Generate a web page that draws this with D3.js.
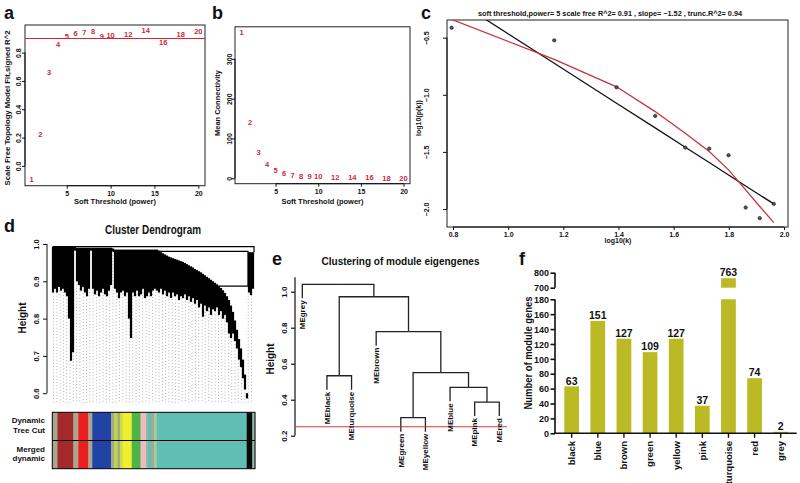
<!DOCTYPE html>
<html><head><meta charset="utf-8">
<script src="https://cdn.jsdelivr.net/npm/d3@7"></script>
<style>
body{margin:0;background:#fff;}
svg{display:block;}
</style></head><body>
<svg id="chart" width="800" height="483"></svg>
<script>
// ---------------- DATA ----------------
// panels a & b: soft-threshold powers
const powers = [1,2,3,4,5,6,7,8,9,10,12,14,16,18,20];
const sftR2 = [-0.094,0.224,0.657,0.86,0.917,0.936,0.945,0.952,0.917,0.924,0.931,0.959,0.874,0.926,0.952];
const meanK = [366,140,65,35,20,12.5,7.5,6,4.5,4,2.5,2,1.5,1,1];
const r2Cut = 0.9;
const ticksA = [0,0.2,0.4,0.6,0.8];
const ticksB = [0,100,200,300];
const ticksPow = [5,10,15,20];

// panel c: scale-free fit
const log10k = [0.795,1.167,1.393,1.533,1.642,1.729,1.799,1.861,1.912,1.963];
const log10pk = [-0.413,-0.523,-0.934,-1.185,-1.462,-1.471,-1.529,-1.987,-2.08,-1.955];
const fitLinear = [-0.149,-0.724,-1.074,-1.290,-1.459,-1.593,-1.702,-1.798,-1.877,-1.955];
const fitTrunc = [-0.34,-0.689,-0.93,-1.147,-1.337,-1.497,-1.657,-1.832,-1.978,-2.119];
const ticksCx = [0.8,1.0,1.2,1.4,1.6,1.8,2.0];
const ticksCy = [-0.5,-1.0,-1.5,-2.0];
const titleC = "soft threshold,power= 5  scale free R^2= 0.91 , slope= \u22121.52 , trunc.R^2= 0.94";

// panel d: gene dendrogram profile (per leaf column, top/bottom heights)
const dendroTop = [
 0.993,0.993,0.993,0.993,0.993,0.993,0.993,0.993,0.993,0.993,0.993,
 0.993,
 0.99,0.99,0.99,0.99,0.99,0.99,0.99,
 0.99,
 0.99,0.99,0.99,0.99,0.99,0.99,0.99,0.99,0.99,0.99,
 0.988,
 0.985,0.985,0.985,0.985,0.985,0.985,0.985,0.985,0.985,
 0.985,0.985,0.985,0.985,0.985,0.985,0.985,0.985,0.985,0.985,0.985,0.985,
 0.985,0.982,0.978,0.975,0.972,0.969,0.966,0.964,0.962,0.96,0.958,0.956,0.954,0.952,0.949,0.946,0.943,0.94,0.937,0.933,0.93,0.927,0.924,0.92,0.916,0.912,0.908,0.904,0.9,0.896,0.892,0.887,0.882,0.876,0.869,0.86,0.85,0.835,0.818,0.795,0.77,0.745,0.72,0.69,0.65,0.60,
 0.978,0.978,0.978];
const dendroBottom = [
 0.87,0.88,0.87,0.885,0.875,0.88,0.87,0.86,0.80,0.687,0.71,
 0.982,
 0.90,0.89,0.875,0.885,0.87,0.86,0.88,
 0.982,
 0.88,0.865,0.875,0.86,0.87,0.88,0.865,0.86,0.875,0.89,
 0.98,
 0.88,0.87,0.855,0.87,0.875,0.86,0.87,0.80,0.748,
 0.87,0.86,0.875,0.86,0.865,0.88,0.855,0.86,0.87,0.86,0.875,0.88,
 0.875,0.87,0.88,0.865,0.875,0.86,0.87,0.855,0.87,0.86,0.865,0.85,0.86,0.855,0.865,0.85,0.86,0.845,0.855,0.84,0.85,0.83,0.84,0.805,0.835,0.82,0.83,0.81,0.825,0.82,0.83,0.81,0.82,0.80,0.81,0.79,0.76,0.748,0.76,0.74,0.72,0.69,0.67,0.64,0.61,0.586,
 0.87,0.863,0.88];
const ticksD = [0.6,0.7,0.8,0.9,1.0];
// module colour strips (start position in per-mille of leaf order)
const stripStart = [0,25,104,128,178,197,290,304,321,334,347,392,433,438,462,472,490,502,515,959,987];
const stripColor = ["#a9a58e","#a3292b","#a9a58e","#ec1f1f","#a9a58e","#2143a6","#a9a58e","#b6dc3c","#a9a58e","#c8e040","#f0ee2e","#4db649","#a9a58e","#eebcc0","#9fb8a4","#5fbfb2","#a9a58e","#a9c8a4","#5fbfb2","#0a0a0a","#8fbfae"];
const stripRows = ["Dynamic\nTree Cut","Merged\ndynamic"];

// panel e: module eigengene clustering
const meLeaves = ["MEgrey","MEblack","MEturquoise","MEbrown","MEgreen","MEyellow","MEblue","MEpink","MEred"];
const meTree = {h:1.041, children:[
  {name:"MEgrey"},
  {h:0.972, children:[
    {h:0.533, children:[{name:"MEblack"},{name:"MEturquoise"}]},
    {h:0.778, children:[
      {name:"MEbrown"},
      {h:0.55, children:[
        {h:0.30, children:[{name:"MEgreen"},{name:"MEyellow"}]},
        {h:0.469, children:[{name:"MEblue"},{h:0.387, children:[{name:"MEpink"},{name:"MEred"}]}]}
      ]}
    ]}
  ]}
]};
const meHang = 0.078;
const meCut = 0.25;
const ticksE = [0.2,0.4,0.6,0.8,1.0];

// panel f: module sizes
const modules = ["black","blue","brown","green","yellow","pink","turquoise","red","grey"];
const moduleGenes = [63,151,127,109,127,37,763,74,2];
const ticksFLow = [0,20,40,60,80,100,120,140,160,180];
const ticksFHigh = [700,800];

// ---------------- DRAW ----------------
const FONT = '"Liberation Sans", Arial, Helvetica, sans-serif';
const svg = d3.select("#chart").attr("font-family", FONT).attr("font-weight","bold");
svg.append("rect").attr("width",800).attr("height",483).attr("fill","#fff");

function txt(x,y,s,fs,opts={}){
  const t = svg.append("text").attr("x",x).attr("y",y).attr("font-size",fs).text(s)
    .attr("text-anchor",opts.anchor||"middle").attr("fill",opts.fill||"#111");
  if(opts.rot) t.attr("transform",`rotate(${opts.rot},${x},${y})`);
  if(opts.len) t.attr("textLength",opts.len).attr("lengthAdjust","spacingAndGlyphs");
  return t;
}
function axisLeftR(xPos, scale, ticks, fmt, tickLen, gap, fs, lw, lineEnds){
  const g = svg.append("g").attr("transform",`translate(${xPos},0)`);
  g.call(d3.axisLeft(scale).tickValues(ticks).tickFormat(fmt).tickSize(tickLen));
  g.attr("font-family",FONT).attr("font-size",fs).attr("font-weight","bold");
  g.select(".domain").remove();
  const ends = lineEnds || [scale(ticks[0]), scale(ticks[ticks.length-1])];
  g.append("line").attr("x1",0).attr("x2",0).attr("y1",ends[0]).attr("y2",ends[1]).attr("stroke","#111").attr("stroke-width",lw);
  g.selectAll(".tick line").attr("stroke","#111").attr("stroke-width",lw);
  g.selectAll(".tick text").attr("x",0).attr("y",-gap).attr("dy",0).attr("text-anchor","middle").attr("transform","rotate(-90)").attr("fill","#111");
  return g;
}
function axisBottomR(yPos, scale, ticks, fmt, tickLen, base, fs, lw){
  const g = svg.append("g").attr("transform",`translate(0,${yPos})`);
  g.call(d3.axisBottom(scale).tickValues(ticks).tickFormat(fmt).tickSize(tickLen));
  g.attr("font-family",FONT).attr("font-size",fs).attr("font-weight","bold");
  g.select(".domain").remove();
  g.append("line").attr("y1",0).attr("y2",0).attr("x1",scale(ticks[0])).attr("x2",scale(ticks[ticks.length-1])).attr("stroke","#111").attr("stroke-width",lw);
  g.selectAll(".tick line").attr("stroke","#111").attr("stroke-width",lw);
  g.selectAll(".tick text").attr("y",base).attr("dy",0).attr("fill","#111");
  return g;
}
// panel letters
[["a",4,18.5],["b",212,18.5],["c",421,18.5],["d",4,232],["e",272,264.5],["f",519,264.5]].forEach(([l,x,y])=>txt(x,y,l,18,{anchor:"start"}));

// ---- panel a ----
const xA = d3.scaleLinear([0.24,20.76],[25,205]);
const yA = d3.scaleLinear([-0.14,0.995],[185.7,25]);
svg.append("rect").attr("x",25).attr("y",25).attr("width",180).attr("height",160.7).attr("fill","none").attr("stroke","#222");
axisLeftR(25,yA,ticksA,d3.format(".1f"),3,4.5,7,1);
axisBottomR(185.7,xA,ticksPow,d3.format("d"),3,10,7,1);
svg.append("line").attr("x1",25).attr("x2",205).attr("y1",yA(r2Cut)).attr("y2",yA(r2Cut)).attr("stroke","#d8262e").attr("stroke-width",1.1);
svg.append("g").selectAll("text").data(powers).join("text")
  .attr("x",(d)=>xA(d)).attr("y",(d,i)=>yA(sftR2[i])).attr("dy","0.35em").attr("text-anchor","middle")
  .attr("font-size",7.5).attr("fill","#cc2936").text(d=>d);
txt(115,204,"Soft Threshold (power)",7.5);
txt(9.5,108,"Scale Free Topology Model Fit,signed R^2",7,{rot:-90,len:155});

// ---- panel b ----
const xB = d3.scaleLinear([0.24,20.76],[235,410]);
const yB = d3.scaleLinear([-13.6,380.6],[183.7,26.8]);
svg.append("rect").attr("x",235).attr("y",26.8).attr("width",175).attr("height",156.9).attr("fill","none").attr("stroke","#222");
axisLeftR(235,yB,ticksB,d3.format("d"),3,3.5,7,1);
axisBottomR(183.7,xB,ticksPow,d3.format("d"),3,10,7,1);
svg.append("g").selectAll("text").data(powers).join("text")
  .attr("x",(d)=>xB(d)).attr("y",(d,i)=>yB(meanK[i])).attr("dy","0.35em").attr("text-anchor","middle")
  .attr("font-size",7.5).attr("fill","#cc2936").text(d=>d);
txt(322.5,204,"Soft Threshold (power)",7.5);
txt(219.5,103,"Mean Connectivity",7,{rot:-90,len:66});

// ---- panel c ----
const xC = d3.scaleLinear([0.8,2.0],[453,784]);
const yC = d3.scaleLinear([-0.5,-2.0],[37.7,209]);
svg.append("clipPath").attr("id","clipC").append("rect").attr("x",447).attr("y",20).attr("width",341).attr("height",207);
svg.append("rect").attr("x",447).attr("y",20).attr("width",341).attr("height",207).attr("fill","none").attr("stroke","#222");
axisLeftR(447,yC,ticksCy,d3.format(".1f"),4,18.5,7,1);
axisBottomR(227,xC,ticksCx,d3.format(".1f"),3,9.5,7,1);
const lineC = d3.line().x((d,i)=>xC(log10k[i])).y(d=>yC(d));
const gC = svg.append("g").attr("clip-path","url(#clipC)");
gC.append("path").attr("d",lineC(fitLinear)).attr("fill","none").attr("stroke","#111").attr("stroke-width",1.3);
gC.append("path").attr("d",lineC(fitTrunc)).attr("fill","none").attr("stroke","#c8323c").attr("stroke-width",1.3);
gC.selectAll("circle").data(log10pk).join("circle").attr("cx",(d,i)=>xC(log10k[i])).attr("cy",d=>yC(d)).attr("r",1.7)
  .attr("fill","#555").attr("stroke","#111").attr("stroke-width",0.6);
txt(610,15.5,titleC,7,{len:264});
txt(618,243,"log10(k)",7);
txt(421,118,"log10(p(k))",7,{rot:-90});

// ---- panel d ----
const yD = d3.scaleLinear([0.6,1.0],[393.2,244]);
const colX = d3.scaleLinear([0,dendroTop.length-1],[53,253]);
const leafX = d3.scaleLinear([0,1000],[52.3,255]);
txt(153,234,"Cluster Dendrogram",12,{len:96});
axisLeftR(47,yD,ticksD,d3.format(".1f"),4,8,7.5,1);
txt(26,318,"Height",10,{rot:-90});
// guides
const guideX = d3.range(53.5,254,3.3);
svg.append("g").selectAll("line").data(guideX).join("line")
  .attr("x1",d=>d).attr("x2",d=>d)
  .attr("y1",d=>yD(dendroBottom[Math.max(0,Math.min(dendroBottom.length-1,Math.round(colX.invert(d))))]))
  .attr("y2",403).attr("stroke","#a8a8a8").attr("stroke-width",0.9).attr("stroke-dasharray","1,2.2");
// dendrogram mass
svg.append("g").selectAll("rect").data(dendroTop).join("rect")
  .attr("x",(d,i)=>colX(i)-1.1).attr("width",2.2)
  .attr("y",d=>yD(d)).attr("height",(d,i)=>yD(dendroBottom[i])-yD(d)).attr("fill","#000");
// upper merges
const gDL = svg.append("g").attr("stroke","#000").attr("stroke-width",1.2).attr("fill","none");
gDL.append("path").attr("d",`M${colX(0)},${yD(0.993)}H${colX(100)+1}V${yD(0.978)}`);
gDL.append("path").attr("d",`M${colX(30)},${yD(0.98)}H${colX(97)+1}V${yD(0.887)}H${colX(82)}`);
// colour strips
const stripTop = 412.3, stripH = 28.2;
stripRows.forEach((lab,r)=>{
  const g = svg.append("g");
  g.selectAll("rect").data(stripStart).join("rect")
    .attr("x",d=>leafX(d)).attr("width",(d,i)=>leafX(i+1<stripStart.length?stripStart[i+1]:1000)-leafX(d)+0.3)
    .attr("y",stripTop+r*stripH).attr("height",stripH).attr("fill",(d,i)=>stripColor[i]);
  lab.split("\n").forEach((s,k)=>txt(45,stripTop+r*stripH+11+k*9.5,s,8,{anchor:"end"}));
});
svg.append("rect").attr("x",leafX(0)).attr("y",stripTop).attr("width",leafX(1000)-leafX(0)).attr("height",2*stripH).attr("fill","none").attr("stroke","#000").attr("stroke-width",1);
svg.append("line").attr("x1",leafX(0)).attr("x2",leafX(1000)).attr("y1",stripTop+stripH).attr("y2",stripTop+stripH).attr("stroke","#000").attr("stroke-width",1.2);

// ---- panel e ----
const yE = d3.scaleLinear([0.2,1.0],[435.7,291.7]);
const xE = d3.scalePoint(meLeaves,[302.3,499.3]);
txt(400.5,264.5,"Clustering of module eigengenes",11.5,{len:158});
axisLeftR(295,yE,ticksE,d3.format(".1f"),4,8,8,1.2,[yE(0.2),yE(1.08)]);
txt(274,359,"Height",10,{rot:-90});
const root = d3.hierarchy(meTree);
root.eachAfter(n=>{
  if(!n.children){ n.px = xE(n.data.name); n.hy = n.parent.data.h - meHang; }
  else { n.px = d3.mean(n.children,c=>c.px); n.hy = n.data.h; }
});
const gE = svg.append("g").attr("stroke","#222").attr("stroke-width",1.3).attr("fill","none");
root.descendants().filter(n=>n.children).forEach(n=>{
  n.children.forEach(c=>{
    gE.append("path").attr("d",`M${c.px},${yE(c.hy)}V${yE(n.hy)}H${n.px}`);
  });
});
svg.append("line").attr("x1",295).attr("x2",507).attr("y1",yE(meCut)).attr("y2",yE(meCut)).attr("stroke","#d23c3c").attr("stroke-width",1.1);
root.leaves().forEach(n=>{
  const x=n.px, y=yE(n.hy)+2;
  svg.append("text").attr("x",x).attr("y",y).attr("dy","0.35em").attr("text-anchor","end")
    .attr("transform",`rotate(-90,${x},${y})`).attr("font-size",8).attr("fill","#111").text(n.data.name);
});

// ---- panel f ----
const xF = d3.scaleBand(modules,[558.6,793.8]).paddingInner(0.437).paddingOuter(0.2185);
const yFL = d3.scaleLinear([0,180],[433.3,299.3]);
const yFH = d3.scaleLinear([700,800],[287.7,272.7]);
const barCol = "#bbb924";
const gF = svg.append("g");
gF.selectAll("rect.low").data(moduleGenes).join("rect").attr("class","low")
  .attr("x",(d,i)=>xF(modules[i])).attr("width",xF.bandwidth())
  .attr("y",d=>yFL(Math.min(d,180))).attr("height",d=>yFL(0)-yFL(Math.min(d,180))).attr("fill",barCol);
gF.selectAll("rect.high").data(moduleGenes.filter(d=>d>700)).join("rect").attr("class","high")
  .attr("x",d=>xF(modules[moduleGenes.indexOf(d)])).attr("width",xF.bandwidth())
  .attr("y",d=>yFH(d)).attr("height",d=>yFH(700)-yFH(d)).attr("fill",barCol);
gF.selectAll("text.val").data(moduleGenes).join("text").attr("class","val")
  .attr("x",(d,i)=>xF(modules[i])+xF.bandwidth()/2)
  .attr("y",d=>(d>180?yFH(d):yFL(d))-1.8).attr("text-anchor","middle").attr("font-size",10.5).attr("fill","#111").text(d=>d);
const axL = axisLeftR(555,yFL,ticksFLow,d3.format("d"),4.5,0,9,1.6);
axL.selectAll(".tick text").attr("transform",null).attr("x",-6).attr("y",0).attr("dy","0.35em").attr("text-anchor","end");
const axH = axisLeftR(555,yFH,ticksFHigh,d3.format("d"),4.5,0,9,1.6);
axH.selectAll(".tick text").attr("transform",null).attr("x",-6).attr("y",0).attr("dy","0.35em").attr("text-anchor","end");
svg.append("line").attr("x1",554.2).attr("x2",796.7).attr("y1",433.3).attr("y2",433.3).attr("stroke","#111").attr("stroke-width",1.6);
gF.selectAll("line.tk").data(modules).join("line").attr("class","tk")
  .attr("x1",d=>xF(d)+xF.bandwidth()/2).attr("x2",d=>xF(d)+xF.bandwidth()/2)
  .attr("y1",433.3).attr("y2",437.8).attr("stroke","#111").attr("stroke-width",1.4);
gF.selectAll("text.cat").data(modules).join("text").attr("class","cat")
  .attr("x",d=>xF(d)+xF.bandwidth()/2).attr("y",441).attr("dy","0.35em").attr("text-anchor","end")
  .attr("transform",d=>`rotate(-90,${xF(d)+xF.bandwidth()/2},441)`).attr("font-size",9.5).attr("fill","#111").text(d=>d);
txt(532,353,"Number of module genes",10.5,{rot:-90,len:113});
</script>
</body></html>
